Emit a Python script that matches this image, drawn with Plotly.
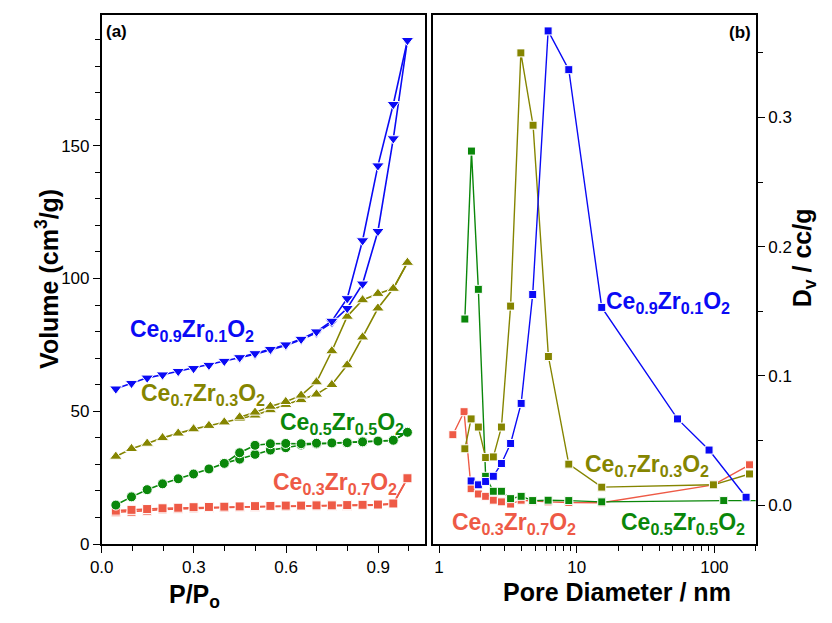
import numpy as np
import plotly.graph_objects as go

# ---------- (a) N2 isotherms: relative pressure vs adsorbed volume ----------
p_ads = [0.046, 0.097, 0.148, 0.198, 0.249, 0.299, 0.349, 0.399, 0.449, 0.499,
         0.549, 0.599, 0.649, 0.699, 0.749, 0.799, 0.849, 0.899, 0.949, 0.995]

v91_ads = [58.5, 60.6, 62.6, 63.8, 65.1, 66.2, 67.4, 68.9, 70.0, 71.5,
           73.1, 74.8, 76.9, 79.6, 83.4, 88.8, 98.0, 117.8, 152.7, 189.7]
p91_des = [0.995, 0.949, 0.899, 0.849, 0.799, 0.749, 0.699, 0.649, 0.599, 0.549, 0.499, 0.449]
v91_des = [189.7, 165.6, 142.5, 114.3, 92.5, 84.0, 80.0, 77.2, 75.1, 73.4, 71.8, 70.3]

v73_ads = [33.0, 35.9, 37.9, 40.0, 41.7, 43.3, 44.6, 45.9, 47.2, 48.5,
           50.5, 52.5, 54.3, 56.4, 60.0, 67.4, 77.9, 88.8, 96.2, 106.0]
p73_des = [0.995, 0.949, 0.899, 0.849, 0.799, 0.749, 0.699, 0.649, 0.599, 0.549, 0.499, 0.449]
v73_des = [106.0, 96.2, 94.3, 91.9, 85.7, 72.7, 61.0, 56.0, 53.6, 51.8, 49.6, 47.8]

v55_ads = [14.7, 17.8, 20.5, 22.7, 24.6, 26.4, 28.3, 30.4, 32.0, 33.8,
           35.4, 36.3, 37.3, 37.7, 38.0, 38.1, 38.4, 38.7, 39.0, 42.1]
p55_des = [0.995, 0.949, 0.899, 0.849, 0.799, 0.749, 0.699, 0.649, 0.599, 0.549, 0.499, 0.449, 0.399]
v55_des = [42.1, 39.1, 38.8, 38.5, 38.2, 38.1, 38.0, 37.8, 37.9, 37.8, 37.2, 34.4, 30.4]

v37_ads = [12.0, 12.2, 12.6, 13.1, 13.3, 13.5, 13.6, 13.8, 13.9, 14.1,
           14.2, 14.2, 14.3, 14.3, 14.4, 14.4, 14.6, 14.7, 15.1, 24.8]
p37_des = [0.995, 0.949, 0.899, 0.849, 0.799, 0.749, 0.699, 0.649, 0.599, 0.549,
           0.499, 0.449, 0.399, 0.349, 0.299, 0.249, 0.198, 0.148, 0.097, 0.046]
v37_des = [24.8, 15.3, 14.9, 14.8, 14.7, 14.6, 14.6, 14.5, 14.5, 14.4,
           14.3, 14.2, 14.1, 14.0, 13.9, 13.7, 13.5, 13.2, 12.9, 12.6]

# ---------- (b) pore size distributions ----------
d91 = [1.71, 1.93, 2.18, 2.48, 2.84, 3.31, 3.95, 4.79, 6.20, 8.76, 15.2, 54.0, 91.5, 170]
dv91 = [0.0187, 0.0157, 0.0183, 0.0223, 0.0322, 0.0477, 0.0787, 0.163, 0.367, 0.337,
        0.153, 0.0667, 0.0426, 0.0061]

d73 = [1.54, 1.71, 1.93, 2.18, 2.48, 2.84, 3.31, 3.93, 4.82, 6.23, 8.76, 15.2, 98.4, 180]
dv73 = [0.0436, 0.0667, 0.0604, 0.0368, 0.0373, 0.0604, 0.154, 0.350, 0.294, 0.115,
        0.0317, 0.0139, 0.0157, 0.0241]

d55 = [1.54, 1.72, 1.93, 2.18, 2.48, 2.84, 3.31, 3.95, 4.79, 6.20, 8.76, 15.2, 117, 215]
dv55 = [0.144, 0.274, 0.167, 0.0223, 0.0107, 0.0107, 0.0050, 0.0068, 0.0035, 0.0038,
        0.0035, 0.0025, 0.0035, 0.0035]

d37 = [1.26, 1.52, 1.71, 1.93, 2.18, 2.48, 2.84, 3.31, 3.95, 4.79, 6.20, 8.76, 15.2, 98.4, 180]
dv37 = [0.0545, 0.0723, 0.0127, 0.0086, 0.0068, 0.0038, 0.0025, 0.0008, 0.0038, 0.0030,
        0.0025, 0.0020, 0.0018, 0.0157, 0.0312]

BLUE = "#0A0AF5"
OLIVE = "#858500"
GREEN = "#0A870A"
RED = "#EE5A46"

FONT = "Liberation Sans, Arial, sans-serif"

fig = go.Figure()


def add(x, y, color, symbol, size, xa="x", ya="y", lw=1.6):
    fig.add_trace(go.Scatter(
        x=x, y=y, xaxis=xa, yaxis=ya, mode="lines+markers",
        line=dict(color=color, width=lw),
        marker=dict(symbol=symbol, size=size, color=color,
                    line=dict(color="white", width=1)),
        showlegend=False, hoverinfo="skip"))


# isotherm branches
add(p_ads, v37_ads, RED, "square", 9)
add(p37_des, v37_des, RED, "square", 9)
add(p_ads, v55_ads, GREEN, "circle", 10)
add(p55_des, v55_des, GREEN, "circle", 10)
add(p_ads, v73_ads, OLIVE, "triangle-up", 11)
add(p73_des, v73_des, OLIVE, "triangle-up", 11)
add(p_ads, v91_ads, BLUE, "triangle-down", 11)
add(p91_des, v91_des, BLUE, "triangle-down", 11)

# pore size distributions
add(d37, dv37, RED, "square", 8, "x2", "y2", 1.4)
add(d55, dv55, GREEN, "square", 8, "x2", "y2", 1.4)
add(d73, dv73, OLIVE, "square", 8, "x2", "y2", 1.4)
add(d91, dv91, BLUE, "square", 8, "x2", "y2", 1.4)

tickfont = dict(family=FONT, size=17, color="black")
axis_common = dict(showline=True, mirror=True, linecolor="black", linewidth=1.5,
                   ticks="outside", tickcolor="black", tickwidth=1.4, ticklen=7,
                   showgrid=False, zeroline=False, tickfont=tickfont)
minor_common = dict(ticks="outside", ticklen=5, tickcolor="black", tickwidth=1.4,
                    showgrid=False)

ytop, ybot = 1 - 15 / 623, 1 - 553 / 623

fig.update_layout(
    width=832, height=623,
    margin=dict(l=0, r=0, t=0, b=0),
    paper_bgcolor="white", plot_bgcolor="white",
    xaxis=dict(domain=[91 / 832, 419 / 832], range=[0, 1.052],
               tickmode="linear", tick0=0, dtick=0.3, tickformat=".1f",
               minor=dict(dtick=0.1, tick0=0, **minor_common),
               anchor="y", **axis_common),
    yaxis=dict(domain=[ybot, ytop], range=[0, 199.3],
               tickmode="linear", tick0=0, dtick=50,
               minor=dict(dtick=10, tick0=0, **minor_common),
               anchor="x", **axis_common),
    xaxis2=dict(domain=[427.3 / 832, 755 / 832], type="log",
                range=[np.log10(0.906), np.log10(201)],
                tickmode="linear", tick0=0, dtick=1,
                minor=dict(dtick="D1", **minor_common),
                anchor="y2", **axis_common),
    yaxis2=dict(domain=[ybot, ytop], range=[-0.0302, 0.3795], side="right",
                tickmode="linear", tick0=0, dtick=0.1, tickformat=".1f",
                minor=dict(dtick=0.05, tick0=0, **minor_common),
                anchor="x2", **axis_common),
)

ann = []


def formula(a, b, c):
    return "<b>Ce<sub>%s</sub>Zr<sub>%s</sub>O<sub>%s</sub></b>" % (a, b, c)


def label(text, x, y, color, xref, yref):
    ann.append(dict(text=text, x=x, y=y, xref=xref, yref=yref, xanchor="left",
                    yanchor="middle", showarrow=False,
                    font=dict(family=FONT, size=23, color=color)))


label(formula("0.9", "0.1", "2"), 0.085, 80.4, BLUE, "x", "y")
label(formula("0.7", "0.3", "2"), 0.12, 56.3, OLIVE, "x", "y")
label(formula("0.5", "0.5", "2"), 0.575, 45.5, GREEN, "x", "y")
label(formula("0.3", "0.7", "2"), 0.55, 22.7, RED, "x", "y")

label(formula("0.9", "0.1", "2"), np.log10(15.8), 0.157, BLUE, "x2", "y2")
label(formula("0.7", "0.3", "2"), np.log10(11.2), 0.0305, OLIVE, "x2", "y2")
label(formula("0.3", "0.7", "2"), np.log10(1.2), -0.014, RED, "x2", "y2")
label(formula("0.5", "0.5", "2"), np.log10(20.2), -0.014, GREEN, "x2", "y2")

# panel tags
ann.append(dict(text="<b>(a)</b>", x=93 / 832, y=1 - 32 / 623, xref="paper", yref="paper",
                xanchor="left", yanchor="middle", showarrow=False,
                font=dict(family=FONT, size=17, color="black")))
ann.append(dict(text="<b>(b)</b>", x=752 / 832, y=1 - 33 / 623, xref="paper", yref="paper",
                xanchor="right", yanchor="middle", showarrow=False,
                font=dict(family=FONT, size=17, color="black")))

# axis titles
title_font = dict(family=FONT, size=25, color="black")
ann.append(dict(text="<b>Volume (cm<sup>3</sup>/g)</b>", x=36 / 832, y=1 - 283 / 623,
                xref="paper", yref="paper", textangle=-90, showarrow=False,
                xanchor="center", yanchor="middle", font=title_font))
ann.append(dict(text="<b>P/P<sub>o</sub></b>", x=185 / 832, y=1 - 606 / 623,
                xref="paper", yref="paper", showarrow=False,
                xanchor="center", yanchor="middle", font=title_font))
ann.append(dict(text="<b>Pore Diameter / nm</b>", x=614 / 832, y=1 - 602 / 623,
                xref="paper", yref="paper", showarrow=False,
                xanchor="center", yanchor="middle", font=title_font))
ann.append(dict(text="<b>D<sub>v</sub> / cc/g</b>", x=803 / 832, y=1 - 262 / 623,
                xref="paper", yref="paper", textangle=-90, showarrow=False,
                xanchor="center", yanchor="middle", font=title_font))

fig.update_layout(annotations=ann)

fig.write_html("out.html")
